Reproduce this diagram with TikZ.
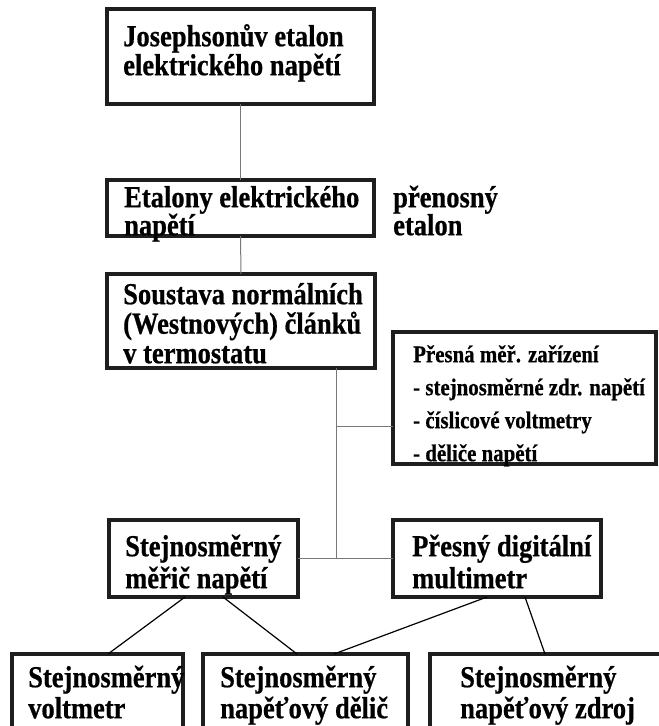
\documentclass[tikz,border=0pt]{standalone}
\usepackage{fontspec}
\setmainfont{Liberation Serif}[FakeStretch=0.87,BoldFeatures={FakeBold=0.6}]
\usepackage{xcolor}
\usepackage{tikz}
\usetikzlibrary{positioning,calc}
\definecolor{linegray}{RGB}{120,120,120}
\definecolor{framedark}{RGB}{30,30,30}
\newcommand{\firstline}{\rule{0pt}{24pt}}
\newcommand{\firstsmall}{\rule{0pt}{20pt}}
\setlength{\lineskiplimit}{-50pt}

\begin{document}
\begin{tikzpicture}[x=1pt,y=-1pt,
    etalbox/.style={draw=framedark,line width=4pt,fill=white,inner sep=0pt,outer sep=0pt},
    boxtext/.style={anchor=north west,inner sep=0pt,align=left,
        font=\bfseries\fontsize{30.5}{29}\selectfont},
    smalltext/.style={boxtext,font=\bfseries\fontsize{24}{33}\selectfont},
    conn/.style={draw=linegray,line width=1pt},
    diag/.style={draw=black,line width=1.2pt}]
    \clip (0,0) rectangle (659,726);

    % Chain of etalons
    \node[etalbox,minimum width=267,minimum height=95] (joseph) at (240.5,56.5) {};
    \node[etalbox,minimum width=267,minimum height=56] (etalony) at (240.5,208) {};
    \node[etalbox,minimum width=268,minimum height=94] (soustava) at (241,321) {};
    \node[etalbox,minimum width=263,minimum height=132] (presna) at (524.5,398) {};

    % Meters
    \node[etalbox,minimum width=189,minimum height=77] (meric) at (203.5,558.5) {};
    \node[etalbox,minimum width=208,minimum height=77] (digit) at (497,558.5) {};

    % Bottom row
    \node[etalbox,minimum width=171,minimum height=106] (voltm) at (97.5,707) {};
    \node[etalbox,minimum width=205,minimum height=106] (delic) at (305.5,707) {};
    \node[etalbox,minimum width=250,minimum height=106] (zdroj) at (555,707) {};

    % Connections
    \coordinate (hub) at (336,558.5);
    \coordinate (branch) at (336,426);
    \draw[conn] (joseph.south) -- (etalony.north);
    \draw[conn] (etalony.south) -- (soustava.north);
    \draw[conn] (soustava.south -| hub) -- (hub);
    \draw[conn] (branch) -- (branch -| presna.west);
    \draw[conn] (meric) -- (digit);
    \draw[diag] ([xshift=-18.5pt]meric.south) -- ([xshift=10.5pt]voltm.north);
    \draw[diag] ([xshift=19.5pt]meric.south) -- ([xshift=-8.5pt]delic.north);
    \draw[diag] ([xshift=-10pt]digit.south) -- ([xshift=28.5pt]delic.north);
    \draw[diag] ([xshift=28pt]digit.south) -- ([xshift=-10pt]zdroj.north);

    % Texts
    \node[boxtext] (josephtext) at (123,22) {\firstline Josephsonův etalon\\elektrického napětí};
    \node[boxtext,font=\bfseries\fontsize{30.5}{28}\selectfont] (etalonytext) at (124,183) {\firstline Etalony elektrického\\napětí};
    \node[boxtext,font=\bfseries\fontsize{30.5}{28}\selectfont] (prenosny) at (393,183) {\firstline přenosný\\etalon};
    \node[boxtext,font=\bfseries\fontsize{30.5}{29.5}\selectfont] (soustavatext) at (123,280) {\firstline Soustava normálních\\(Westnových) článků\\v termostatu};
    \node[smalltext] (presnatext) at (413,342) {\firstsmall Přesná měř. zařízení\\- stejnosměrné zdr. napětí\\- číslicové voltmetry\\- děliče napětí};
    \node[boxtext,font=\bfseries\fontsize{30.5}{32}\selectfont] (merictext) at (125,532) {\firstline Stejnosměrný\\měřič napětí};
    \node[boxtext,font=\bfseries\fontsize{30.5}{32}\selectfont] (digittext) at (412,532) {\firstline Přesný digitální\\multimetr};
    \node[boxtext,font=\bfseries\fontsize{30.5}{31}\selectfont] (voltmtext) at (28,663) {\firstline Stejnosměrný\\voltmetr};
    \node[boxtext,font=\bfseries\fontsize{30.5}{31}\selectfont] (delictext) at (220,663) {\firstline Stejnosměrný\\napěťový dělič};
    \node[boxtext,font=\bfseries\fontsize{30.5}{31}\selectfont] (zdrojtext) at (460,663) {\firstline Stejnosměrný\\napěťový zdroj};
\end{tikzpicture}
\end{document}
